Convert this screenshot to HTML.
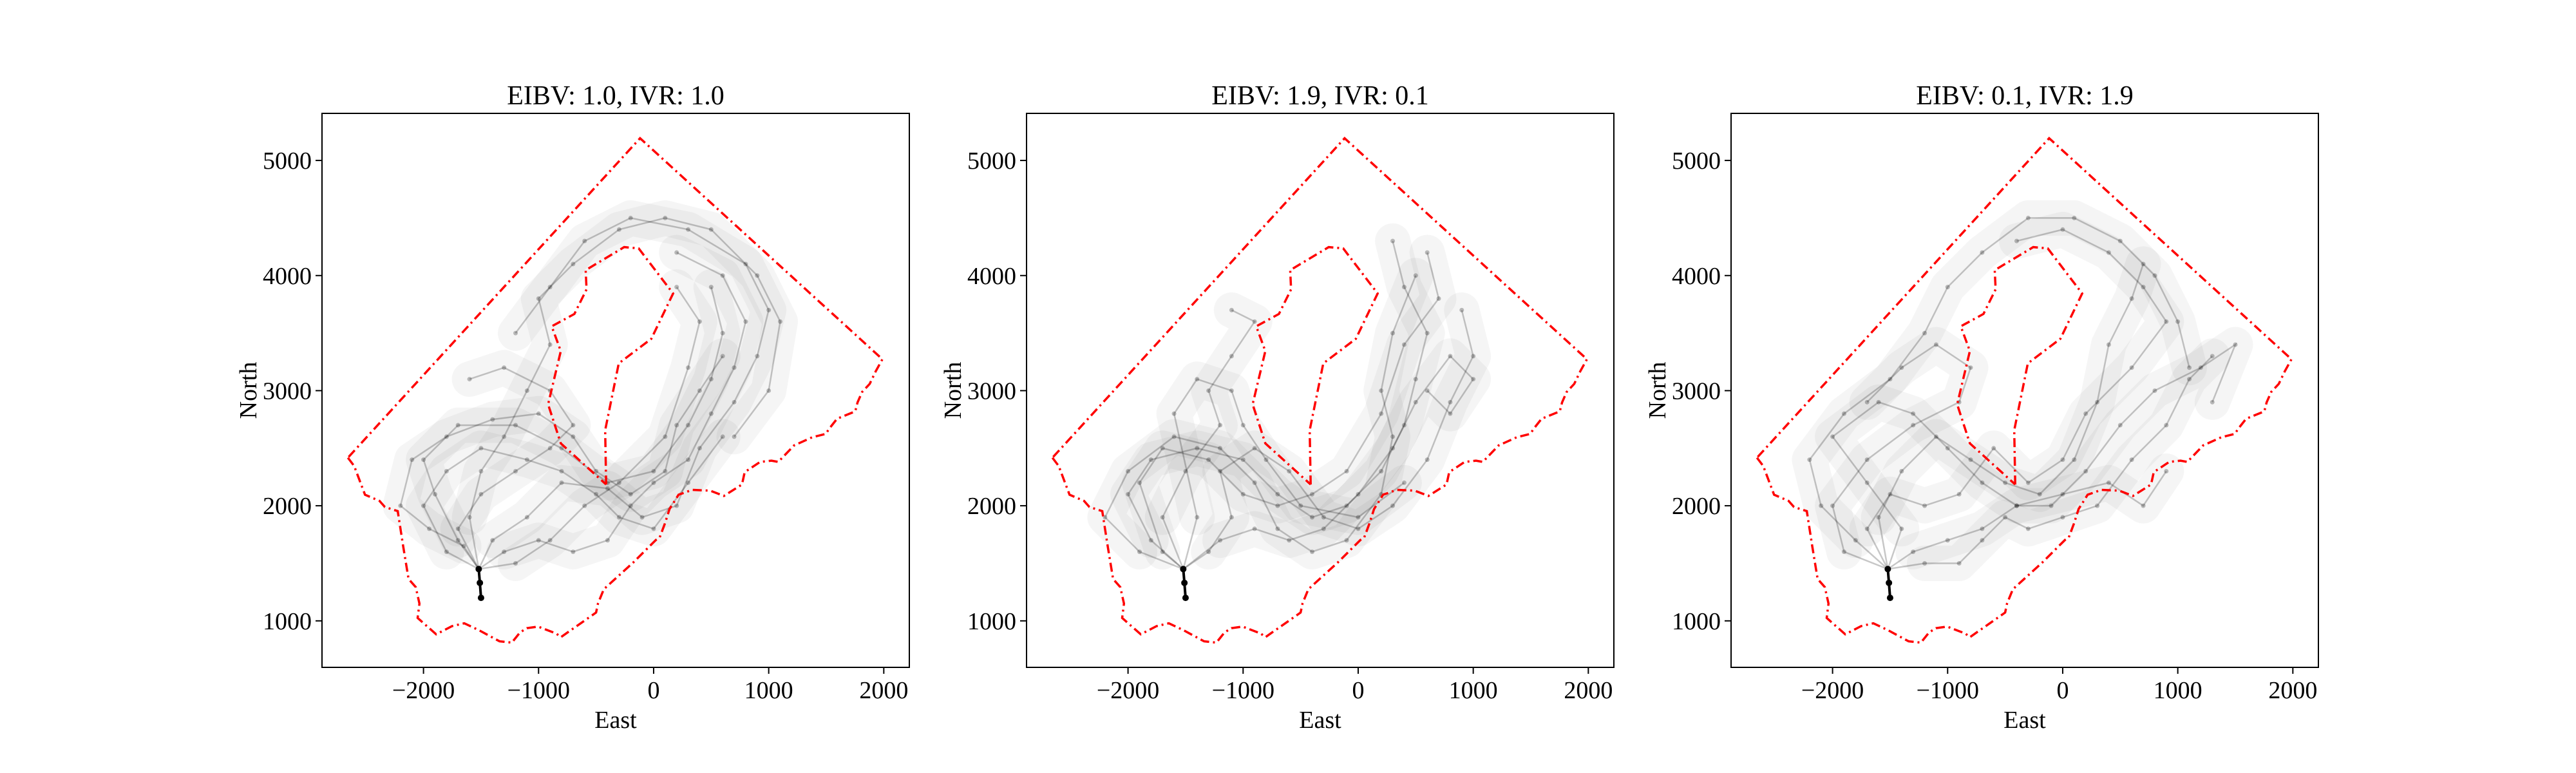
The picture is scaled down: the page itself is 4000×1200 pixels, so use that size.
<!DOCTYPE html>
<html><head><meta charset="utf-8">
<style>
html,body{margin:0;padding:0;background:#fff;}
svg{display:block;}
text{font-family:"Liberation Serif","DejaVu Serif",serif;fill:#000;}
</style></head>
<body>
<svg id="fig" width="4000" height="1200" viewBox="0 0 4000 1200" xmlns="http://www.w3.org/2000/svg"></svg>
<script>
const titles = ["EIBV: 1.0, IVR: 1.0", "EIBV: 1.9, IVR: 0.1", "EIBV: 0.1, IVR: 1.9"];
const xTicks = [-2000, -1000, 0, 1000, 2000];
const yTicks = [1000, 2000, 3000, 4000, 5000];
const xTickLabels = ["\u22122000", "\u22121000", "0", "1000", "2000"];
const yTickLabels = ["1000", "2000", "3000", "4000", "5000"];
const outerX = [-2657,-2602,-2508,-2382,-2335,-2224,-2177,-2130,-2067,-2035,-2051,-1890,-1752,-1646,-1516,-1339,-1232,-1161,-1102,-1004,-846,-807,-500,-484,-433,-177,20,51,98,138,217,335,492,610,768,791,925,1024,1083,1220,1378,1496,1524,1594,1752,1772,1811,1878,1929,1988,-118,-2657];
const outerY = [2417,2345,2096,2042,1989,1953,1650,1364,1293,1150,1025,883,954,979,918,822,811,900,936,950,890,858,1072,1150,1275,1507,1703,1721,1846,1971,2096,2138,2131,2085,2185,2292,2381,2392,2381,2524,2595,2624,2667,2756,2820,2898,2988,3059,3166,3273,5193,2417];
const innerX = [-413,-421,-303,-20,169,-130,-256,-591,-583,-689,-886,-807,-917,-807,-413];
const innerY = [2185,2656,3237,3451,3844,4236,4247,4047,3880,3666,3559,3344,2881,2542,2185];
const startX = [-1500,-1510,-1520];
const startY = [1200,1330,1450];
const pathsA = [
 [[-1520,1450],[-1700,1700],[-1900,2100],[-2000,2400],[-1700,2700],[-1200,2700],[-800,2500],[-400,2200],[0,2300],[300,2700],[500,3100],[600,3500],[500,3900]],
 [[-1520,1450],[-1400,1700],[-1100,1900],[-800,2200],[-400,2150],[-100,1900],[200,2000],[400,2500],[700,2900],[900,3300],[1000,3700],[800,4100],[300,4400],[-200,4500],[-600,4300],[-900,3900],[-1200,3500]],
 [[-1520,1450],[-1650,1650],[-1950,1800],[-2200,2000],[-2100,2400],[-1800,2600],[-1400,2750],[-1000,2800],[-700,2600],[-500,2300],[-200,2100],[100,2300],[200,2700],[400,3000],[600,3300]],
 [[-1520,1450],[-1300,1600],[-1000,1700],[-700,1600],[-400,1700],[-200,2000],[0,2200],[300,2400],[500,2800],[700,3200],[800,3600],[600,4000],[200,4200]],
 [[-1520,1450],[-1600,1900],[-1500,2300],[-1300,2600],[-1100,3000],[-900,3400],[-1000,3800],[-700,4100],[-300,4400],[100,4500],[500,4400],[900,4000],[1100,3600],[1000,3000],[700,2600]],
 [[-1520,1450],[-1800,1600],[-2000,2000],[-1800,2300],[-1500,2500],[-1100,2400],[-800,2300],[-500,2100],[-300,1900],[0,1800],[300,2200],[600,2600]],
 [[-1520,1450],[-1200,1500],[-900,1700],[-600,2000],[-300,2200],[100,2600],[300,3200],[400,3600],[200,3900]],
 [[-1520,1450],[-1700,1800],[-1500,2100],[-1200,2300],[-900,2500],[-700,2700],[-900,3000],[-1300,3200],[-1600,3100]]
];
const pathsB = [
 [[-1520,1450],[-1800,1700],[-2000,2100],[-1800,2400],[-1400,2500],[-1000,2400],[-700,2100],[-400,1900],[-100,2000],[200,2300],[400,2700],[500,3100],[600,3500],[400,3900],[300,4300]],
 [[-1520,1450],[-1300,1600],[-1100,1900],[-1200,2300],[-900,2500],[-600,2300],[-300,1900],[0,1800],[300,2000],[600,2400],[800,2900],[1000,3300],[900,3700]],
 [[-1520,1450],[-1900,1600],[-2200,1900],[-2000,2300],[-1600,2600],[-1200,2500],[-900,2200],[-700,1800],[-400,1600],[-100,1700],[200,2100],[300,2600],[200,3000],[300,3500],[500,4000]],
 [[-1520,1450],[-1700,1900],[-1500,2300],[-1200,2700],[-1300,3000],[-1100,3300],[-900,3600],[-1100,3700]],
 [[-1520,1450],[-1200,1700],[-900,1800],[-600,1700],[-300,1800],[0,2100],[300,2500],[500,2900],[800,3300],[1000,3100],[800,2800],[600,3000]],
 [[-1520,1450],[-1700,1600],[-1900,2200],[-1700,2500],[-1300,2400],[-1000,2100],[-700,2000],[-400,2100],[-100,2300],[200,2800],[400,3400],[700,3800],[600,4200]],
 [[-1520,1450],[-1400,1900],[-1600,2800],[-1400,3100],[-1100,3000],[-1000,2700],[-800,2400],[-500,2000],[0,1900],[400,2200]]
];
const pathsC = [
 [[-1520,1450],[-1800,1700],[-2100,2000],[-2200,2400],[-1900,2800],[-1500,3100],[-1200,3500],[-1000,3900],[-700,4200],[-300,4500],[100,4500],[500,4300],[800,4000],[1000,3600],[1100,3200]],
 [[-1520,1450],[-1300,1600],[-1000,1700],[-700,1800],[-400,2000],[-100,2000],[200,2300],[500,2700],[800,3000],[1200,3200],[1500,3400],[1300,2900]],
 [[-1520,1450],[-1600,1900],[-1400,2300],[-1100,2600],[-800,2400],[-500,2200],[-200,2100],[100,2400],[300,2900],[400,3400],[600,3800],[700,4100]],
 [[-1520,1450],[-1900,1600],[-2000,2000],[-1700,2400],[-1300,2700],[-900,2900],[-800,3200],[-1100,3400],[-1400,3200],[-1700,2900]],
 [[-1520,1450],[-1200,1500],[-900,1500],[-700,1700],[-500,1900],[-300,1800],[0,1900],[300,2000],[600,2400],[900,2700],[1100,3100],[1300,3300]],
 [[-1520,1450],[-1700,1800],[-1500,2100],[-1200,2000],[-900,2100],[-600,2500],[-300,2200],[0,2400],[200,2800],[600,3200],[900,3600],[700,3900],[400,4200],[0,4400],[-400,4300]],
 [[-1520,1450],[-1400,1800],[-1700,2200],[-2000,2600],[-1600,2900],[-1300,2800],[-1000,2500],[-700,2200],[-400,2000],[0,2100],[400,2200],[700,2000],[900,2300]]
];
const allPaths = [pathsA, pathsB, pathsC];

const NS = "http://www.w3.org/2000/svg";
const fig = document.getElementById("fig");
const axLefts = [500, 1594, 2688];
const axW = 912, axTop = 176, axH = 860;
const xMin = -2882, xMax = 2222, yMin = 596, yMax = 5409;

function mk(tag, attrs, parent) {
  const e = document.createElementNS(NS, tag);
  for (const k in attrs) e.setAttribute(k, attrs[k]);
  parent.appendChild(e);
  return e;
}

for (let p = 0; p < 3; p++) {
  const L = axLefts[p];
  const sx = v => L + (v - xMin) / (xMax - xMin) * axW;
  const sy = v => axTop + axH - (v - yMin) / (yMax - yMin) * axH;
  const g = mk("g", {}, fig);
  
  

  const tg = mk("g", {}, g);
  
  
  allPaths[p].forEach((path, i) => {
    const d = path.map((pt, j) => (j ? "L" : "M") + sx(pt[0]).toFixed(1) + " " + sy(pt[1]).toFixed(1)).join(" ");
    const dh = path.slice(1).map((pt, j) => (j ? "L" : "M") + sx(pt[0]).toFixed(1) + " " + sy(pt[1]).toFixed(1)).join(" ");
    const haze = mk("path", {d: dh, fill: "none", stroke: "#000", "stroke-opacity": "0.04", "stroke-width": "55", "stroke-linejoin": "round", "stroke-linecap": "round"}, tg);
    
    
    const ln = mk("path", {d: d, fill: "none", stroke: "#000", "stroke-opacity": "0.22", "stroke-width": "2.5"}, tg);
    
    
    path.forEach(pt => {
      const c = mk("circle", {cx: sx(pt[0]), cy: sy(pt[1]), r: 3.5, fill: "#000", "fill-opacity": "0.25"}, tg);
      
      
    });
  });

  const sd = startX.map((v, j) => (j ? "L" : "M") + sx(v) + " " + sy(startY[j])).join(" ");
  const st = mk("path", {d: sd, fill: "none", stroke: "#000", "stroke-width": "4"}, g);
  
  
  startX.forEach((v, j) => {
    const c = mk("circle", {cx: sx(v), cy: sy(startY[j]), r: 5, fill: "#000"}, g);
    
    
  });

  const od = outerX.map((v, j) => (j ? "L" : "M") + sx(v).toFixed(1) + " " + sy(outerY[j]).toFixed(1)).join(" ");
  const ob = mk("path", {d: od, fill: "none", stroke: "#ff0000", "stroke-width": "3.5", "stroke-dasharray": "14 6 3 6"}, g);
  
  
  const id = innerX.map((v, j) => (j ? "L" : "M") + sx(v).toFixed(1) + " " + sy(innerY[j]).toFixed(1)).join(" ");
  const ib = mk("path", {d: id, fill: "none", stroke: "#ff0000", "stroke-width": "3.5", "stroke-dasharray": "14 6 3 6"}, g);
  
  

  const fr = mk("rect", {x: L, y: axTop, width: axW, height: axH, fill: "none", stroke: "#000", "stroke-width": "2"}, g);
  
  

  xTicks.forEach((v, j) => {
    const x = sx(v);
    const t = mk("line", {x1: x, x2: x, y1: axTop + axH, y2: axTop + axH + 10, stroke: "#000", "stroke-width": "2"}, g);
    
    
    const tx = mk("text", {x: x, y: axTop + axH + 48, "text-anchor": "middle", "font-size": "38"}, g);
    tx.textContent = xTickLabels[j];
    
    
  });
  yTicks.forEach((v, j) => {
    const y = sy(v);
    const t = mk("line", {x1: L - 10, x2: L, y1: y, y2: y, stroke: "#000", "stroke-width": "2"}, g);
    
    
    const tx = mk("text", {x: L - 16, y: y + 13, "text-anchor": "end", "font-size": "38"}, g);
    tx.textContent = yTickLabels[j];
    
    
  });

  const xl = mk("text", {x: L + axW / 2, y: axTop + axH + 94, "text-anchor": "middle", "font-size": "38"}, g);
  xl.textContent = "East";
  
  
  const yl = mk("text", {x: 0, y: 0, "text-anchor": "middle", "font-size": "38", transform: "translate(" + (L - 102) + "," + (axTop + axH / 2) + ") rotate(-90)"}, g);
  yl.textContent = "North";
  
  
  const ti = mk("text", {x: L + axW / 2, y: axTop - 14, "text-anchor": "middle", "font-size": "42"}, g);
  ti.textContent = titles[p];
  
  
}
</script>
</body></html>
